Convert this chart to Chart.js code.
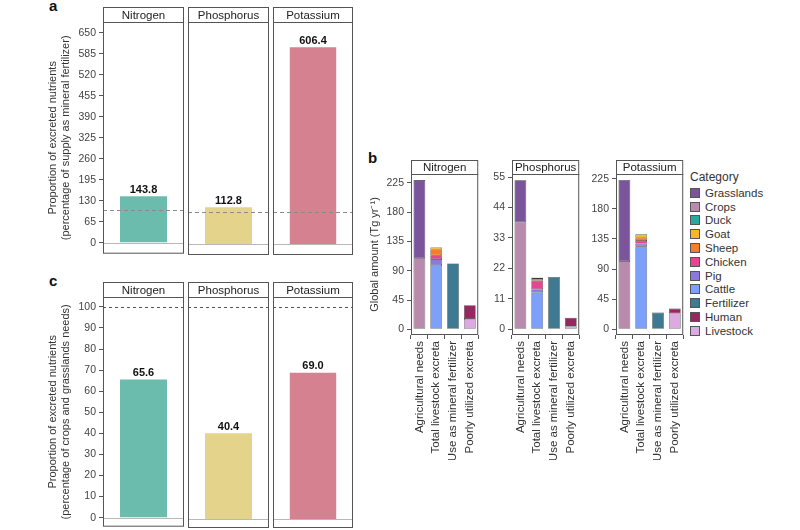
<!DOCTYPE html>
<html>
<head>
<meta charset="utf-8">
<script src="https://cdn.jsdelivr.net/npm/chart.js@4.4.1/dist/chart.umd.min.js"></script>
<style>
  body { margin: 0; width: 800px; height: 530px; background: #fff; position: relative; overflow: hidden;
         font-family: 'Liberation Sans', Arial, sans-serif; color: #333; }
  canvas { position: absolute; }
  .tag { position: absolute; font-weight: bold; font-size: 15px; color: #111; }
  #legend { position: absolute; left: 690px; top: 170px; font-size: 11.5px; color: #333; }
  #legend .ttl { font-size: 12px; margin-bottom: 2px; }
  #legend .row { height: 13.8px; display: flex; align-items: center; }
  #legend .sw { width: 8px; height: 8px; border: 1px solid #555; margin-right: 5px; }
</style>
</head>
<body>
<div class="tag" style="left:49px;top:-3px">a</div>
<div class="tag" style="left:368px;top:149px">b</div>
<div class="tag" style="left:49px;top:272px">c</div>
<div id="legend"></div>
<script>
// Data
const NUTRIENTS = ['Nitrogen', 'Phosphorus', 'Potassium'];
const NUTRIENT_COLORS = ['#6cbcad', '#e3d38b', '#d58190'];
const FERTILIZER_SHARE = [143.8, 112.8, 606.4];   // panel a, % of mineral fertilizer supply
const NEEDS_SHARE = [65.6, 40.4, 69.0];           // panel c, % of crops + grasslands needs
const A_TICKS = [0, 65, 130, 195, 260, 325, 390, 455, 520, 585, 650];
const C_TICKS = [0, 10, 20, 30, 40, 50, 60, 70, 80, 90, 100];
const REF_LINE = 100;

const USES = ['Agricultural needs', 'Total livestock excreta', 'Use as mineral fertilizer', 'Poorly utilized excreta'];
const AGRI_CATS = ['Grasslands', 'Crops'];
const ANIMAL_CATS = ['Duck', 'Goat', 'Sheep', 'Chicken', 'Pig', 'Cattle'];
const FERT_CATS = ['Fertilizer'];
const POOR_CATS = ['Human', 'Livestock'];
const CATEGORIES = [...AGRI_CATS, ...ANIMAL_CATS, ...FERT_CATS, ...POOR_CATS];
const CATEGORY_COLORS = ['#7a559b', '#b88bac', '#2aa8a0', '#f5b928', '#f57d2d', '#e64691',
                         '#8c78e1', '#7da0fa', '#3e7a91', '#96285f', '#dcaae1'];

// Tg per year, same order as the category groups above
const N_AGRI = [120, 109];
const N_ANIMAL = [0.4, 3, 9, 5.7, 9.2, 98.7];
const N_FERT = [101];
const N_POOR = [21, 16];

const P_AGRI = [15.1, 38.7];
const P_ANIMAL = [0.1, 0.4, 0.7, 3.0, 1.1, 13.4];
const P_FERT = [18.9];
const P_POOR = [3.2, 1.0];

const K_AGRI = [121, 102];
const K_ANIMAL = [1, 4.5, 5, 4, 4, 124];
const K_FERT = [25];
const K_POOR = [7, 24];

const N_TICKS = [0, 45, 90, 135, 180, 225];
const P_TICKS = [0, 11, 22, 33, 44, 55];
const K_TICKS = [0, 45, 90, 135, 180, 225];

// Style
const FONT = "'Liberation Sans', Arial, sans-serif";
const FRAME = '#555';

const facetPlugin = {
  id: 'facet',
  afterDatasetsDraw(chart, args, opts) {
    const { ctx, chartArea: a, scales: { y } } = chart;
    ctx.save();
    (opts.refLines || []).forEach(r => {
      const py = Math.round(y.getPixelForValue(r.value)) + 0.5;
      ctx.strokeStyle = r.color;
      ctx.lineWidth = 1;
      ctx.setLineDash(r.dash || []);
      ctx.beginPath();
      ctx.moveTo(a.left, py);
      ctx.lineTo(a.right, py);
      ctx.stroke();
    });
    ctx.setLineDash([]);

    if (opts.valueLabels) {
      const meta = chart.getDatasetMeta(0);
      ctx.font = `bold 11px ${FONT}`;
      ctx.fillStyle = '#111';
      ctx.textAlign = 'center';
      ctx.textBaseline = 'bottom';
      meta.data.forEach((bar, i) => {
        ctx.fillText(chart.data.datasets[0].data[i].toFixed(1), bar.x, bar.y - 1);
      });
    }

    // panel frame and strip
    ctx.strokeStyle = FRAME;
    ctx.lineWidth = 1;
    const w = a.right - a.left - 1;
    ctx.strokeRect(a.left + 0.5, a.top + 0.5, w, a.bottom - a.top - 1);
    ctx.fillStyle = '#fff';
    ctx.fillRect(a.left + 0.5, a.top - opts.stripH + 0.5, w, opts.stripH);
    ctx.strokeRect(a.left + 0.5, a.top - opts.stripH + 0.5, w, opts.stripH);
    ctx.fillStyle = '#222';
    ctx.font = `11.5px ${FONT}`;
    ctx.textAlign = 'center';
    ctx.textBaseline = 'middle';
    ctx.fillText(opts.strip, (a.left + a.right) / 2, a.top - opts.stripH / 2 + 1);
    ctx.restore();
  }
};

const facetChart = (cfg) => {
  const { box, stripH, axisW, xAxisH, padB } = cfg;
  const left = box.left - axisW;
  const top = box.top - stripH - 2;
  const width = box.right - left + 3;
  const height = box.bottom + xAxisH + padB - top;
  const cv = document.createElement('canvas');
  cv.width = width;
  cv.height = height;
  cv.style.left = left + 'px';
  cv.style.top = top + 'px';
  cv.style.width = width + 'px';
  cv.style.height = height + 'px';
  document.body.appendChild(cv);

  return new Chart(cv, {
    type: 'bar',
    data: { labels: cfg.labels, datasets: cfg.datasets },
    options: {
      responsive: false,
      animation: false,
      devicePixelRatio: 1,
      layout: { padding: { left: 0, top: stripH + 2, right: 3, bottom: padB } },
      plugins: {
        legend: { display: false },
        tooltip: { enabled: false },
        facet: { strip: cfg.strip, stripH, refLines: cfg.refLines, valueLabels: cfg.valueLabels }
      },
      scales: {
        x: {
          display: xAxisH > 0,
          stacked: true,
          offset: true,
          grid: { drawOnChartArea: false, drawTicks: true, tickLength: 4, color: FRAME },
          border: { display: false },
          ticks: { minRotation: 90, maxRotation: 90, autoSkip: false, padding: 2, color: '#333',
                   font: { family: FONT, size: 11.5 } },
          afterFit: s => { s.height = xAxisH; }
        },
        y: {
          display: axisW > 0,
          stacked: true,
          min: cfg.min,
          max: cfg.max,
          grid: { drawOnChartArea: false, drawTicks: true, tickLength: 4, color: FRAME },
          border: { display: false },
          afterBuildTicks: s => { s.ticks = cfg.ticks.map(v => ({ value: v })); },
          ticks: { padding: 3, color: '#444', font: { family: FONT, size: 10.5 } },
          title: {
            display: !!cfg.title,
            text: cfg.title,
            padding: { top: 3, bottom: 0 },
            color: '#333',
            font: { family: FONT, size: 11, lineHeight: 1.15 }
          },
          afterFit: s => { s.width = axisW; }
        }
      }
    },
    plugins: [facetPlugin]
  });
};

// Panels a and c
const A_BOXES = [[103, 184], [188, 269], [273, 353]];
NUTRIENTS.forEach((name, i) => {
  const single = (vals) => [{
    data: [vals[i]],
    backgroundColor: NUTRIENT_COLORS[i],
    barPercentage: 0.58,
    categoryPercentage: 1
  }];
  facetChart({
    box: { left: A_BOXES[i][0], right: A_BOXES[i][1], top: 22, bottom: 255 },
    stripH: 15, axisW: i === 0 ? 59 : 0, xAxisH: 0, padB: 8,
    labels: [name], datasets: single(FERTILIZER_SHARE),
    min: -34, max: 684, ticks: A_TICKS,
    title: ['Proportion of excreted nutrients', '(percentage of supply as mineral fertilizer)'],
    strip: name, valueLabels: true,
    refLines: [{ value: 0, color: '#b8b8b8' }, { value: REF_LINE, color: '#8a8a8a', dash: [4, 3] }]
  });
  facetChart({
    box: { left: A_BOXES[i][0], right: A_BOXES[i][1], top: 297, bottom: 528 },
    stripH: 15, axisW: i === 0 ? 59 : 0, xAxisH: 0, padB: 8,
    labels: [name], datasets: single(NEEDS_SHARE),
    min: -4.3, max: 104.7, ticks: C_TICKS,
    title: ['Proportion of excreted nutrients', '(percentage of crops and grasslands needs)'],
    strip: name, valueLabels: true,
    refLines: [{ value: 0, color: '#b8b8b8' }, { value: REF_LINE, color: '#555', dash: [3, 3] }]
  });
});

// Panel b
const GROUPS = [AGRI_CATS, ANIMAL_CATS, FERT_CATS, POOR_CATS];
const stackDatasets = (rows) => [...CATEGORIES].reverse().map(cat => {
  const data = USES.map(() => null);
  GROUPS.forEach((g, gi) => {
    const k = g.indexOf(cat);
    if (k >= 0) data[gi] = rows[gi][k];
  });
  return {
    label: cat,
    data,
    backgroundColor: CATEGORY_COLORS[CATEGORIES.indexOf(cat)],
    borderColor: '#3b3b3b',
    borderWidth: 0.6,
    borderSkipped: false,
    barPercentage: 0.7,
    categoryPercentage: 1
  };
});

const B_PANELS = [
  { rows: [N_AGRI, N_ANIMAL, N_FERT, N_POOR], box: [411, 483], min: -8.7, max: 238.4, ticks: N_TICKS, axisW: 45 },
  { rows: [P_AGRI, P_ANIMAL, P_FERT, P_POOR], box: [512, 584], min: -2.06, max: 56.1, ticks: P_TICKS, axisW: 30 },
  { rows: [K_AGRI, K_ANIMAL, K_FERT, K_POOR], box: [616, 688], min: -8.5, max: 232, ticks: K_TICKS, axisW: 30 }
];
B_PANELS.forEach((p, i) => {
  facetChart({
    box: { left: p.box[0], right: p.box[1], top: 174, bottom: 335 },
    stripH: 14, axisW: p.axisW, xAxisH: 125, padB: 3,
    labels: USES, datasets: stackDatasets(p.rows),
    min: p.min, max: p.max, ticks: p.ticks,
    title: i === 0 ? 'Global amount (Tg yr\u207B\u00B9)' : '',
    strip: NUTRIENTS[i], valueLabels: false, refLines: []
  });
});

// Legend
const legend = document.getElementById('legend');
legend.innerHTML = '<div class="ttl">Category</div>' + CATEGORIES.map((c, i) =>
  `<div class="row"><span class="sw" style="background:${CATEGORY_COLORS[i]}"></span>${c}</div>`).join('');
</script>
</body>
</html>
